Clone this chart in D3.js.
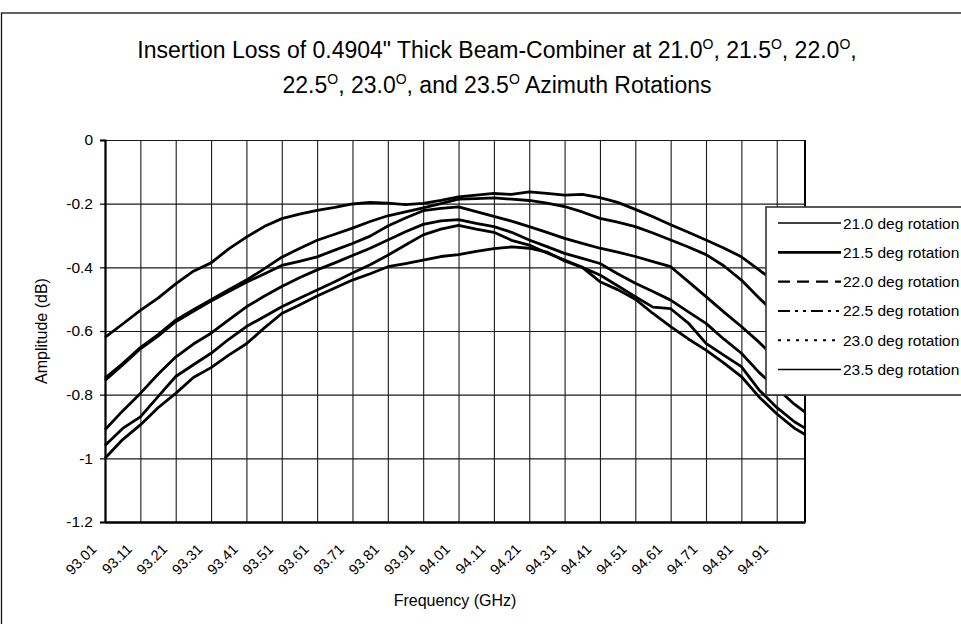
<!DOCTYPE html>
<html><head><meta charset="utf-8">
<script src="https://cdn.jsdelivr.net/npm/d3@7/dist/d3.min.js"></script>
<style>
body{margin:0;background:#fff}
svg{display:block}
text{font-family:"Liberation Sans",Arial,Helvetica,sans-serif;fill:#000}
</style></head>
<body><svg id="chart" width="961" height="624"></svg>
<script>
// ---------------- data ----------------
const freq = [93.01,93.06,93.11,93.16,93.21,93.26,93.31,93.36,93.41,93.46,93.51,93.56,93.61,93.66,93.71,93.76,93.81,93.86,93.91,93.96,94.01,94.06,94.11,94.16,94.21,94.26,94.31,94.36,94.41,94.46,94.51,94.56,94.61,94.66,94.71,94.76,94.81,94.86,94.91,94.96,94.99];

const rot21_0 = [-0.620,-0.578,-0.535,-0.497,-0.452,-0.412,-0.386,-0.342,-0.305,-0.272,-0.247,-0.233,-0.221,-0.212,-0.201,-0.196,-0.198,-0.203,-0.199,-0.190,-0.179,-0.173,-0.168,-0.171,-0.163,-0.168,-0.173,-0.171,-0.181,-0.196,-0.218,-0.241,-0.266,-0.290,-0.314,-0.339,-0.367,-0.408,-0.450,-0.490,-0.512];
const rot21_5 = [-0.748,-0.702,-0.652,-0.611,-0.566,-0.533,-0.502,-0.470,-0.440,-0.405,-0.368,-0.341,-0.315,-0.296,-0.277,-0.256,-0.238,-0.226,-0.213,-0.200,-0.186,-0.184,-0.182,-0.186,-0.190,-0.198,-0.209,-0.226,-0.246,-0.258,-0.272,-0.292,-0.314,-0.336,-0.360,-0.395,-0.440,-0.496,-0.550,-0.600,-0.630];
const rot22_0 = [-0.755,-0.707,-0.656,-0.616,-0.571,-0.538,-0.506,-0.476,-0.447,-0.421,-0.394,-0.381,-0.367,-0.346,-0.325,-0.302,-0.270,-0.245,-0.222,-0.215,-0.210,-0.225,-0.240,-0.255,-0.272,-0.290,-0.309,-0.325,-0.340,-0.352,-0.366,-0.382,-0.398,-0.445,-0.492,-0.540,-0.586,-0.635,-0.690,-0.740,-0.770];
const rot22_5 = [-0.910,-0.851,-0.796,-0.736,-0.682,-0.641,-0.607,-0.565,-0.524,-0.491,-0.460,-0.433,-0.408,-0.386,-0.363,-0.340,-0.314,-0.288,-0.265,-0.254,-0.250,-0.262,-0.272,-0.290,-0.314,-0.335,-0.356,-0.372,-0.388,-0.420,-0.450,-0.476,-0.503,-0.540,-0.576,-0.625,-0.670,-0.730,-0.780,-0.830,-0.855];
const rot23_0 = [-0.960,-0.906,-0.870,-0.806,-0.743,-0.706,-0.670,-0.626,-0.586,-0.555,-0.524,-0.497,-0.471,-0.445,-0.418,-0.392,-0.362,-0.330,-0.298,-0.280,-0.268,-0.280,-0.290,-0.315,-0.330,-0.355,-0.377,-0.400,-0.424,-0.458,-0.492,-0.525,-0.530,-0.575,-0.639,-0.676,-0.712,-0.785,-0.840,-0.885,-0.905];
const rot23_5 = [-1.000,-0.941,-0.895,-0.841,-0.796,-0.746,-0.715,-0.676,-0.640,-0.591,-0.545,-0.518,-0.490,-0.465,-0.440,-0.420,-0.398,-0.388,-0.377,-0.366,-0.360,-0.350,-0.341,-0.336,-0.340,-0.352,-0.380,-0.400,-0.445,-0.470,-0.500,-0.545,-0.586,-0.625,-0.660,-0.700,-0.743,-0.807,-0.860,-0.905,-0.925];

const seriesNames = ["21.0 deg rotation","21.5 deg rotation","22.0 deg rotation","22.5 deg rotation","23.0 deg rotation","23.5 deg rotation"];
const seriesValues = [rot21_0, rot21_5, rot22_0, rot22_5, rot23_0, rot23_5];
const seriesDash = ["none","none","12,7","12,5,3,5,3,5","3,6","none"];
const seriesLegendWidth = [1.6,2.8,2.2,2,2,1.6];

const xTickValues = [93.01,93.11,93.21,93.31,93.41,93.51,93.61,93.71,93.81,93.91,94.01,94.11,94.21,94.31,94.41,94.51,94.61,94.71,94.81,94.91];
const xTickLabels = ["93.01","93.11","93.21","93.31","93.41","93.51","93.61","93.71","93.81","93.91","94.01","94.11","94.21","94.31","94.41","94.51","94.61","94.71","94.81","94.91"];
const yTickValues = [0,-0.2,-0.4,-0.6,-0.8,-1.0,-1.2];
const yTickLabels = ["0","-0.2","-0.4","-0.6","-0.8","-1","-1.2"];

const titleLine1 = [["Insertion Loss of 0.4904\" Thick Beam-Combiner at 21.0",false],["O",true],[", 21.5",false],["O",true],[", 22.0",false],["O",true],[",",false]];
const titleLine2 = [["22.5",false],["O",true],[", 23.0",false],["O",true],[", and 23.5",false],["O",true],[" Azimuth Rotations",false]];
const xTitle = "Frequency (GHz)";
const yTitle = "Amplitude (dB)";

// ---------------- layout ----------------
const svg = d3.select("#chart");
const W = 961, H = 624;
const plot = {left:105, top:140, right:805, bottom:522};

svg.append("rect").attr("x",0).attr("y",0).attr("width",W).attr("height",H).attr("fill","#fff");
// outer chart frame (continues beyond the right / bottom edges)
svg.append("rect").attr("x",1.5).attr("y",13).attr("width",1100).attr("height",700)
  .attr("fill","none").attr("stroke","#111").attr("stroke-width",1.3);

const x = d3.scaleLinear().domain([93.01,94.99]).range([plot.left,plot.right]);
const y = d3.scaleLinear().domain([-1.2,0]).range([plot.bottom,plot.top]);

// gridlines
svg.append("g").attr("transform",`translate(0,${plot.bottom})`)
  .call(d3.axisBottom(x).tickValues(xTickValues).tickSize(-(plot.bottom-plot.top)).tickFormat(""))
  .call(g=>g.select(".domain").remove())
  .call(g=>g.selectAll("line").attr("stroke","#1a1a1a").attr("stroke-width",1.1));
svg.append("g").attr("transform",`translate(${plot.left},0)`)
  .call(d3.axisLeft(y).tickValues(yTickValues).tickSize(-(plot.right-plot.left)).tickFormat(""))
  .call(g=>g.select(".domain").remove())
  .call(g=>g.selectAll("line").attr("stroke","#1a1a1a").attr("stroke-width",1.1));

// right plot border
svg.append("line").attr("x1",plot.right).attr("x2",plot.right).attr("y1",plot.top).attr("y2",plot.bottom).attr("stroke","#000").attr("stroke-width",2);

// y axis
const yAxis = svg.append("g").attr("transform",`translate(${plot.left},0)`)
  .call(d3.axisLeft(y).tickValues(yTickValues).tickSize(5).tickPadding(7)
    .tickFormat((d,i)=>yTickLabels[i]));
yAxis.select(".domain").attr("stroke","#000").attr("stroke-width",2.2);
yAxis.selectAll("line").attr("stroke","#000").attr("stroke-width",1.2);
yAxis.selectAll("text").attr("font-size","15.5px").attr("fill","#000")
  .style("font-family","'Liberation Sans',Arial,sans-serif");

// x axis
const xAxis = svg.append("g").attr("transform",`translate(0,${plot.bottom})`)
  .call(d3.axisBottom(x).tickValues(xTickValues).tickSize(0).tickFormat((d,i)=>xTickLabels[i]));
xAxis.select(".domain").attr("stroke","#000").attr("stroke-width",2.4);
xAxis.selectAll("text")
  .attr("font-size","14.5px").attr("fill","#000")
  .style("font-family","'Liberation Sans',Arial,sans-serif")
  .attr("text-anchor","end").attr("dy",null).attr("y",null)
  .attr("transform","translate(-8,28) rotate(-45)");

// curves
const line = d3.line().x((d,i)=>x(freq[i])).y(d=>y(d));
svg.append("g").selectAll("path").data(seriesValues).join("path")
  .attr("d",d=>line(d)).attr("fill","none").attr("stroke","#000")
  .attr("stroke-width",2.8).attr("stroke-linejoin","round");

// legend
const leg = svg.append("g");
leg.append("rect").attr("x",766).attr("y",207).attr("width",260).attr("height",188)
  .attr("fill","#fff").attr("stroke","#333").attr("stroke-width",1.6);
const legY = d3.scaleLinear().domain([0,5]).range([223,369.5]);
seriesNames.forEach((n,i)=>{
  leg.append("line").attr("x1",778).attr("x2",841).attr("y1",legY(i)).attr("y2",legY(i))
    .attr("stroke","#000").attr("stroke-width",seriesLegendWidth[i])
    .attr("stroke-dasharray",seriesDash[i]==="none"?null:seriesDash[i]);
  leg.append("text").attr("x",843).attr("y",legY(i)).attr("dy","0.36em")
    .attr("font-size","15.5px").text(n);
});

// axis titles
svg.append("text").attr("x",(plot.left+plot.right)/2).attr("y",606)
  .attr("text-anchor","middle").attr("font-size","16px").text(xTitle);
svg.append("text").attr("transform",`translate(47,${(plot.top+plot.bottom)/2}) rotate(-90)`)
  .attr("text-anchor","middle").attr("font-size","16px").text(yTitle);

// title with superscript "O"
function titleLine(parts, yy){
  const t = svg.append("text").attr("x",497).attr("y",yy).attr("text-anchor","middle").attr("font-size","23px");
  parts.forEach(([s,sup],k)=>{
    if(sup){
      t.append("tspan").attr("font-size","14px").attr("dy","-9").text(s);
    } else {
      const ts = t.append("tspan").text(s);
      if (k>0) ts.attr("dy","9");
    }
  });
}
titleLine(titleLine1,58);
titleLine(titleLine2,93);
</script></body></html>
